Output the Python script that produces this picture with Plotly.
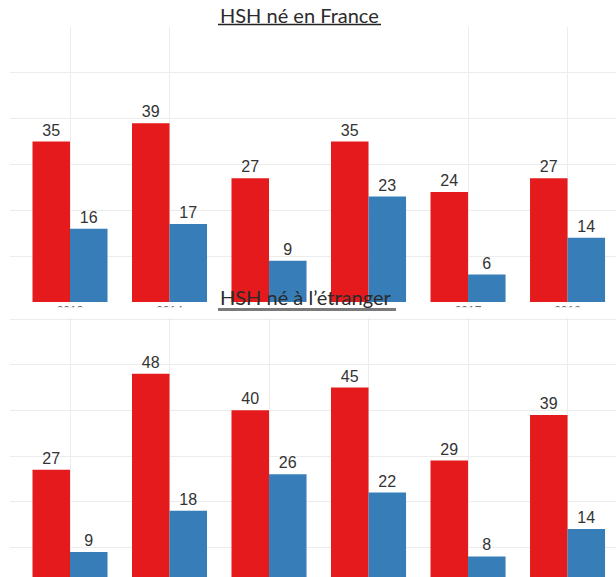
import plotly.graph_objects as go

# Years shown on the category axis
years = ["2013", "2014", "2015", "2016", "2017", "2018"]
# year labels left visible under the upper panel (the middle two sit under the second title)
shown_years = ["2013", "2014", "2017", "2018"]

# HSH né en France
france_red = [35, 39, 27, 35, 24, 27]
france_blue = [16, 17, 9, 23, 6, 14]

# HSH né à l'étranger
etranger_red = [27, 48, 40, 45, 29, 39]
etranger_blue = [9, 18, 26, 22, 8, 14]

RED = "#E41A1C"
BLUE = "#377EB8"
W, H = 616, 577


def px_x(p):
    return p / W


def px_y(p):
    return 1 - p / H


label_font = dict(family="Liberation Sans, Arial, sans-serif", size=16, color="#333333")

fig = go.Figure()


def add_pair(red, blue, xa, ya):
    for vals, col in ((red, RED), (blue, BLUE)):
        fig.add_trace(go.Bar(
            x=years, y=vals, marker=dict(color=col, line=dict(width=0)),
            text=[str(v) for v in vals], textposition="outside",
            textfont=label_font, cliponaxis=False,
            xaxis=xa, yaxis=ya, showlegend=False, hoverinfo="skip",
        ))


add_pair(france_red, france_blue, "x", "y")
add_pair(etranger_red, etranger_blue, "x2", "y2")

grid = "#ececec"
xrange_ = [-0.603, 5.487]

fig.update_layout(
    width=W, height=H,
    margin=dict(l=0, r=0, t=0, b=0),
    paper_bgcolor="white", plot_bgcolor="white",
    barmode="group", bargap=0.246, bargroupgap=0,
    xaxis=dict(domain=[px_x(10), 1], range=xrange_, type="category",
               categoryorder="array", categoryarray=years,
               tickmode="array", tickvals=shown_years, ticktext=shown_years,
               showgrid=True, gridcolor=grid, gridwidth=1, ticks="",
               showline=False, zeroline=False, anchor="y",
               tickfont=dict(family="Liberation Sans, Arial, sans-serif", size=12, color="#666666")),
    yaxis=dict(domain=[px_y(302), px_y(27)], range=[0, 60], dtick=10,
               showgrid=True, gridcolor=grid, gridwidth=1, zeroline=False,
               showticklabels=False, ticks="", anchor="x"),
    xaxis2=dict(domain=[px_x(10), 1], range=xrange_, type="category",
                categoryorder="array", categoryarray=years,
                showgrid=True, gridcolor=grid, gridwidth=1, ticks="",
                showticklabels=False, showline=False, zeroline=False, anchor="y2"),
    yaxis2=dict(domain=[0, px_y(305)], range=[3.5, 63.07], dtick=10, tick0=0,
                showgrid=True, gridcolor=grid, gridwidth=1, zeroline=False,
                showticklabels=False, ticks="", anchor="x2"),
)

title_font = dict(family="Lato, Open Sans, sans-serif", size=20, color="#2b2b2b")

fig.add_annotation(text="HSH né en France", x=px_x(218), y=px_y(15),
                   xref="paper", yref="paper", xanchor="left", yanchor="middle",
                   showarrow=False, font=title_font)
fig.add_annotation(text="HSH né à l’étranger", x=px_x(218), y=px_y(297),
                   xref="paper", yref="paper", xanchor="left", yanchor="middle",
                   showarrow=False, font=title_font)

# white band hiding the lower part of the upper panel's year labels
fig.add_shape(type="rect", xref="paper", yref="paper",
              x0=0, x1=1, y0=px_y(318), y1=px_y(307.2),
              fillcolor="white", line=dict(width=0), layer="above")
# title underlines
fig.add_shape(type="line", xref="paper", yref="paper",
              x0=px_x(218), x1=px_x(381), y0=px_y(24.5), y1=px_y(24.5),
              line=dict(color="#222222", width=1.5), layer="above")
fig.add_shape(type="line", xref="paper", yref="paper",
              x0=px_x(218), x1=px_x(396), y0=px_y(309.5), y1=px_y(309.5),
              line=dict(color="#7a7a7a", width=3), layer="above")

fig.write_html("out.html")
